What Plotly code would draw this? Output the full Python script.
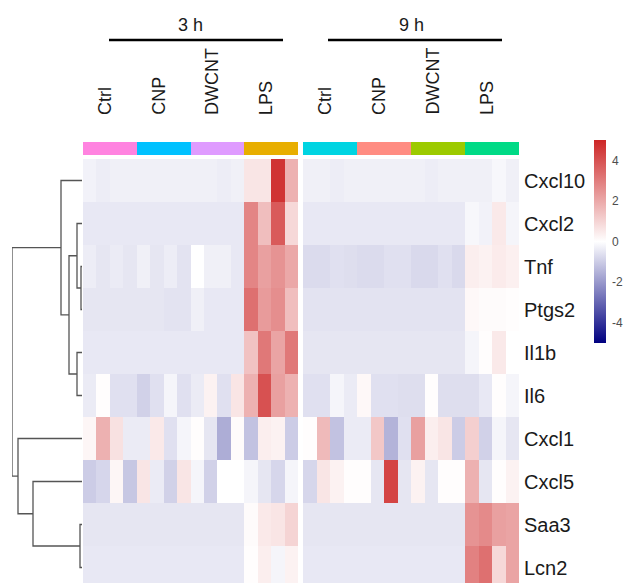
import plotly.graph_objects as go

W, H = 624, 583

genes = ["Cxcl10", "Cxcl2", "Tnf", "Ptgs2", "Il1b", "Il6", "Cxcl1", "Cxcl5", "Saa3", "Lcn2"]
conditions = ["Ctrl", "CNP", "DWCNT", "LPS"]
times = ["3 h", "9 h"]
replicates = 4

# z-scored expression, 3 h block (16 columns: 4 conditions x 4 replicates)
z_3h = [
    [-0.25, -0.35, -0.3, -0.3, -0.3, -0.3, -0.3, -0.3, -0.3, -0.3, -0.35, -0.3, 0.6, 0.6, 4.7, 1.8],
    [-0.45, -0.45, -0.45, -0.45, -0.45, -0.45, -0.45, -0.45, -0.45, -0.45, -0.45, -0.45, 2.8, 1.5, 3.8, 0.9],
    [-0.35, -0.5, -0.4, -0.5, -0.3, -0.5, -0.35, -0.55, 0.0, -0.3, -0.3, -0.45, 2.8, 2.2, 2.5, 2.0],
    [-0.5, -0.5, -0.5, -0.5, -0.5, -0.5, -0.55, -0.55, -0.3, -0.45, -0.45, -0.45, 3.3, 2.3, 2.6, 1.5],
    [-0.45, -0.45, -0.45, -0.45, -0.45, -0.45, -0.45, -0.45, -0.45, -0.45, -0.45, -0.45, 1.4, 3.1, 2.1, 3.1],
    [-0.4, 0.05, -0.6, -0.6, -0.9, -0.6, -0.2, -0.6, -0.4, 0.3, -0.6, 0.6, 1.8, 4.0, 2.2, 1.8],
    [0.2, 1.8, 0.7, -0.4, -0.4, 0.5, -0.6, -0.2, 0.05, -0.5, -1.6, 0.1, -1.2, 0.4, 0.3, -1.0],
    [-1.0, -0.8, 0.2, -1.1, 0.6, -0.4, -0.9, 0.6, -0.2, -0.9, 0.0, 0.0, -0.2, -0.5, -0.8, -0.2],
    [-0.5, -0.5, -0.5, -0.5, -0.5, -0.5, -0.5, -0.5, -0.5, -0.5, -0.5, -0.5, 0.1, 0.5, 0.6, 1.0],
    [-0.45, -0.45, -0.45, -0.45, -0.45, -0.45, -0.45, -0.45, -0.45, -0.45, -0.45, -0.45, 0.05, 0.4, -0.2, 0.3],
]

# 9 h block
z_9h = [
    [-0.3, -0.3, -0.35, -0.3, -0.3, -0.3, -0.3, -0.3, -0.3, -0.35, -0.3, -0.3, -0.3, -0.3, -0.15, -0.3],
    [-0.45, -0.45, -0.45, -0.45, -0.45, -0.45, -0.45, -0.45, -0.45, -0.45, -0.45, -0.45, -0.15, -0.25, 0.5, -0.2],
    [-0.7, -0.7, -0.6, -0.65, -0.7, -0.7, -0.6, -0.6, -0.75, -0.75, -0.6, -0.75, 0.4, 0.3, 0.45, 0.35],
    [-0.55, -0.55, -0.55, -0.55, -0.55, -0.55, -0.55, -0.55, -0.55, -0.55, -0.55, -0.55, 0.15, 0.1, 0.1, 0.05],
    [-0.5, -0.5, -0.5, -0.5, -0.5, -0.5, -0.5, -0.5, -0.5, -0.5, -0.5, -0.5, -0.2, 0.05, 0.5, 0.0],
    [-0.6, -0.6, -0.2, -0.4, 0.15, -0.6, -0.6, -0.65, -0.65, 0.05, -0.65, -0.65, -0.65, -0.45, 0.05, -0.2],
    [0.05, 1.6, -1.2, -0.4, -0.4, 1.3, -1.5, -0.6, 2.2, 0.4, 0.6, -1.0, 1.1, -0.9, -0.2, -0.5],
    [-0.8, 0.6, 0.3, 0.05, 0.05, -0.5, 4.3, -0.5, 0.3, -0.5, 0.05, 0.05, 1.8, -0.5, 0.05, 0.3],
    [-0.5, -0.5, -0.5, -0.5, -0.5, -0.5, -0.5, -0.5, -0.5, -0.5, -0.5, -0.5, 2.5, 2.7, 2.2, 2.1],
    [-0.45, -0.45, -0.45, -0.45, -0.45, -0.45, -0.45, -0.45, -0.45, -0.45, -0.45, -0.45, 2.9, 3.3, 0.9, 2.1],
]

# annotation group per column (index into group_colors)
groups_3h = [0, 0, 0, 0, 1, 1, 1, 1, 2, 2, 2, 2, 3, 3, 3, 3]
groups_9h = [4, 4, 4, 4, 5, 5, 5, 5, 6, 6, 6, 6, 7, 7, 7, 7]
group_colors = ["#FF83E0", "#00C1FF", "#DF9BFF", "#E8AE00",
                "#00D4E2", "#FF8C82", "#9CCA00", "#00DA86"]

# row dendrogram: (left, right, height); leaves 0..9, clusters 10..
merges = [
    (2, 3, 1),     # 10
    (8, 9, 2),     # 11
    (1, 10, 5),    # 12
    (4, 5, 5),     # 13
    (12, 13, 13),  # 14
    (0, 14, 21),   # 15
    (7, 11, 49),   # 16
    (6, 16, 64),   # 17
    (15, 17, 70),  # 18
]

colorbar_ticks = [4, 2, 0, -2, -4]

# ---------- helpers ----------
def px_x(p):
    return p / W

def px_y(p):
    return (H - p) / H

heat_scale = [[0.0, "#000080"], [0.5, "#FFFFFF"], [1.0, "#CD2626"]]

n = len(group_colors)
disc_scale = []
for i, c in enumerate(group_colors):
    disc_scale.append([i / n, c])
    disc_scale.append([(i + 1) / n, c])

fig = go.Figure()

cols = list(range(len(groups_3h)))
rows = list(range(len(genes)))

fig.add_trace(go.Heatmap(z=z_3h, x=cols, y=rows, xaxis="x2", yaxis="y",
                         colorscale=heat_scale, zmin=-5, zmax=5, showscale=False,
                         hoverinfo="skip"))
fig.add_trace(go.Heatmap(z=z_9h, x=cols, y=rows, xaxis="x3", yaxis="y",
                         colorscale=heat_scale, zmin=-5, zmax=5, showscale=True,
                         hoverinfo="skip",
                         colorbar=dict(
                             x=px_x(594), xanchor="left", y=px_y(241.5), yanchor="middle",
                             thickness=12, thicknessmode="pixels",
                             len=203, lenmode="pixels",
                             tickvals=colorbar_ticks, ticktext=[str(t) for t in colorbar_ticks],
                             ticks="outside", ticklen=4, tickcolor="rgba(0,0,0,0)",
                             outlinewidth=0, xpad=0, ypad=0,
                             tickfont=dict(family="Liberation Sans", size=12, color="#4D4D4D"),
                         )))

fig.add_trace(go.Heatmap(z=[[g + 0.5 for g in groups_3h]], x=cols, y=[0], xaxis="x2", yaxis="y2",
                         colorscale=disc_scale, zmin=0, zmax=n, showscale=False,
                         hoverinfo="skip"))
fig.add_trace(go.Heatmap(z=[[g + 0.5 for g in groups_9h]], x=cols, y=[0], xaxis="x3", yaxis="y2",
                         colorscale=disc_scale, zmin=0, zmax=n, showscale=False,
                         hoverinfo="skip"))

# ---------- dendrogram ----------
pos = {i: (float(i), 0.0) for i in range(len(genes))}
dx, dy = [], []
for k, (a, b, h) in enumerate(merges):
    ya, ha = pos[a]
    yb, hb = pos[b]
    dx += [ha, h, h, hb, None]
    dy += [ya, ya, yb, yb, None]
    pos[len(genes) + k] = ((ya + yb) / 2, h)

fig.add_trace(go.Scatter(x=dx, y=dy, mode="lines", xaxis="x", yaxis="y",
                         line=dict(color="#555555", width=1.3), hoverinfo="skip",
                         showlegend=False))

# ---------- layout ----------
row_px = 43.0
top_px = 159
y_bottom = -0.5 + (H - top_px) / row_px

hidden = dict(visible=False, showgrid=False, zeroline=False)
fig.update_layout(
    width=W, height=H, margin=dict(l=0, r=0, t=0, b=0, pad=0, autoexpand=False),
    paper_bgcolor="white", plot_bgcolor="white", showlegend=False,
    xaxis=dict(domain=[px_x(12), px_x(82)], range=[70, 0], **hidden),
    yaxis=dict(domain=[0, px_y(top_px)], range=[y_bottom, -0.5], **hidden),
    xaxis2=dict(domain=[px_x(83), px_x(298)], range=[-0.5, 15.5], anchor="y", **hidden),
    xaxis3=dict(domain=[px_x(303), px_x(519)], range=[-0.5, 15.5], anchor="y", **hidden),
    yaxis2=dict(domain=[px_y(155), px_y(142)], range=[-0.5, 0.5], anchor="x2", **hidden),
)

font = dict(family="Liberation Sans", color="#1A1A1A")
ann = []
# gene labels
for i, g in enumerate(genes):
    ann.append(dict(x=px_x(522), xref="paper", y=i, yref="y", text=g, showarrow=False,
                    xanchor="left", yanchor="middle", font=dict(size=20, **font)))
# condition labels
for ax in ["x2", "x3"]:
    for j, c in enumerate(conditions):
        ann.append(dict(x=j * replicates + (replicates - 1) / 2, xref=ax, y=px_y(117), yref="paper",
                        text=c, showarrow=False, textangle=-90, xanchor="center", yanchor="bottom",
                        xshift=-5, font=dict(size=18, **font)))
# time labels
for ax, t in zip(["x2", "x3"], times):
    ann.append(dict(x=7.5, xref=ax, y=px_y(37), yref="paper", text=t, showarrow=False,
                    xanchor="center", yanchor="bottom", font=dict(size=18, **font)))
fig.update_layout(annotations=ann)

shapes = []
for x0, x1 in [(109, 283), (328, 502)]:
    shapes.append(dict(type="line", xref="paper", yref="paper", x0=px_x(x0), x1=px_x(x1),
                       y0=px_y(40), y1=px_y(40), line=dict(color="black", width=2.5)))
fig.update_layout(shapes=shapes)

fig.write_html("out.html", config={"displayModeBar": False},
               post_script="document.body.style.margin='0';document.body.style.overflow='hidden';")
